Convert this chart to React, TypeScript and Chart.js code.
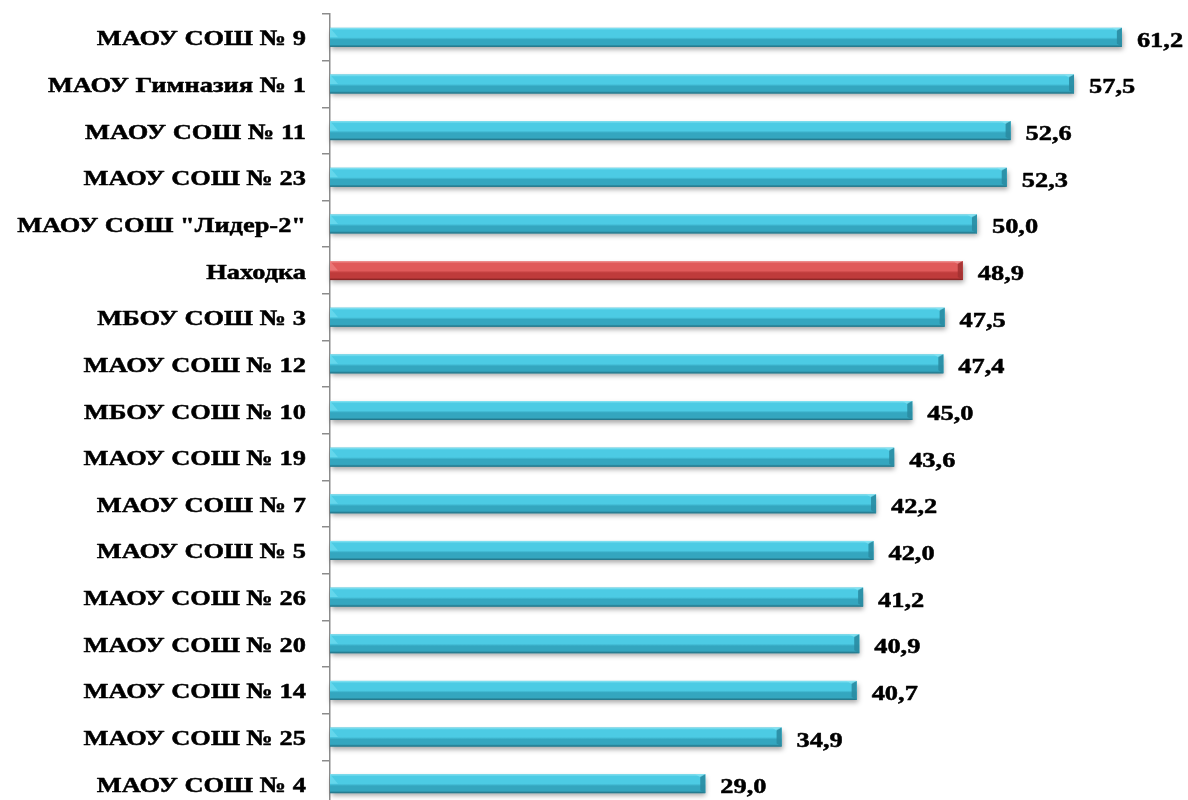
import React, { useEffect, useRef } from "react";
import { Chart, registerables } from "chart.js";

Chart.register(...registerables);

const categories = [
  "МАОУ СОШ № 9",
  "МАОУ Гимназия № 1",
  "МАОУ СОШ № 11",
  "МАОУ СОШ № 23",
  'МАОУ СОШ "Лидер-2"',
  "Находка",
  "МБОУ СОШ № 3",
  "МАОУ СОШ № 12",
  "МБОУ СОШ № 10",
  "МАОУ СОШ № 19",
  "МАОУ СОШ № 7",
  "МАОУ СОШ № 5",
  "МАОУ СОШ № 26",
  "МАОУ СОШ № 20",
  "МАОУ СОШ № 14",
  "МАОУ СОШ № 25",
  "МАОУ СОШ № 4",
];

const values = [61.2, 57.5, 52.6, 52.3, 50.0, 48.9, 47.5, 47.4, 45.0, 43.6, 42.2, 42.0, 41.2, 40.9, 40.7, 34.9, 29.0];

const highlight = "Находка";

const FONT = 'bold 22px "Liberation Serif", "Times New Roman", serif';
const STRETCH = 1.2;

const blueTheme = {
  top: "#8be6f5",
  upper: "#4ccbe4",
  lower: "#34a6bf",
  bottom: "#1f6a7c",
  right: "#2a8ca2",
  left: "#6fdcef",
};
const redTheme = {
  top: "#f29a9a",
  upper: "#e05a5a",
  lower: "#bf3b3b",
  bottom: "#7c1f1f",
  right: "#a33232",
  left: "#ee8080",
};

function stretchedText(ctx: any, text: string, x: number, y: number, align: "left" | "right") {
  ctx.save();
  ctx.translate(x, y);
  ctx.scale(STRETCH, 1);
  ctx.font = FONT;
  ctx.fillStyle = "#000";
  ctx.strokeStyle = "#000";
  ctx.lineWidth = 0.5;
  ctx.lineJoin = "round";
  ctx.textAlign = align;
  ctx.textBaseline = "alphabetic";
  ctx.fillText(text, 0, 0);
  ctx.strokeText(text, 0, 0);
  ctx.restore();
}

const cylinderBars = {
  id: "cylinderBars",
  afterDatasetsDraw(chart: any) {
    const ctx = chart.ctx;
    const meta = chart.getDatasetMeta(0);
    const axisX = chart.chartArea.left;
    meta.data.forEach((el: any, i: number) => {
      const p = el.getProps(["x", "y", "base", "height"], true);
      const left = Math.min(p.x, p.base);
      const right = Math.max(p.x, p.base);
      const h = p.height;
      const top = p.y - h / 2;
      const bot = p.y + h / 2;
      const th = chart.data.labels[i] === highlight ? redTheme : blueTheme;
      const bev = 5;

      ctx.save();
      ctx.shadowColor = "rgba(0,0,0,0.35)";
      ctx.shadowBlur = 5;
      ctx.shadowOffsetY = 3;
      ctx.shadowOffsetX = 1;
      ctx.fillStyle = th.lower;
      ctx.fillRect(left, top, right - left, h);
      ctx.restore();

      ctx.save();
      const g = ctx.createLinearGradient(0, top, 0, bot);
      g.addColorStop(0, th.top);
      g.addColorStop(0.12, th.upper);
      g.addColorStop(0.5, th.upper);
      g.addColorStop(0.62, th.lower);
      g.addColorStop(0.88, th.lower);
      g.addColorStop(1, th.bottom);
      ctx.fillStyle = g;
      ctx.fillRect(left, top, right - left, h);

      ctx.fillStyle = th.left;
      ctx.globalAlpha = 0.7;
      ctx.beginPath();
      ctx.moveTo(left, top);
      ctx.lineTo(left + bev * 1.6, top + h * 0.5);
      ctx.lineTo(left, top + h * 0.5);
      ctx.closePath();
      ctx.fill();

      ctx.globalAlpha = 0.9;
      ctx.fillStyle = th.right;
      ctx.beginPath();
      ctx.moveTo(right - bev, top + 2);
      ctx.lineTo(right, top);
      ctx.lineTo(right, bot);
      ctx.lineTo(right - bev, bot - 3);
      ctx.closePath();
      ctx.fill();
      ctx.globalAlpha = 0.6;
      ctx.fillStyle = th.top;
      ctx.beginPath();
      ctx.moveTo(right - bev * 2, top);
      ctx.lineTo(right, top);
      ctx.lineTo(right - bev, top + 3);
      ctx.closePath();
      ctx.fill();
      ctx.restore();

      const v = chart.data.datasets[0].data[i] as number;
      stretchedText(ctx, v.toFixed(1).replace(".", ","), right + 15, p.y + 9.5, "left");
      stretchedText(ctx, String(chart.data.labels[i]), axisX - 24, p.y + 8, "right");
    });
  },
};

export default function App() {
  const ref = useRef<HTMLCanvasElement>(null);
  useEffect(() => {
    if (!ref.current) return;
    const chart = new Chart(ref.current, {
      type: "bar",
      data: {
        labels: categories,
        datasets: [
          {
            data: values,
            backgroundColor: "rgba(0,0,0,0)",
            borderWidth: 0,
            barThickness: 19,
          },
        ],
      },
      options: {
        indexAxis: "y",
        animation: false,
        responsive: false,
        maintainAspectRatio: false,
        layout: { padding: { top: 14, right: 4, bottom: 0, left: 0 } },
        plugins: {
          legend: { display: false },
          tooltip: { enabled: false },
        },
        scales: {
          x: {
            display: false,
            min: 0,
            max: 66,
            grid: { display: false },
          },
          y: {
            afterFit: (scale: any) => {
              scale.width = 330;
              scale.paddingTop = 0;
              scale.paddingBottom = 0;
            },
            border: { display: true, color: "#8c8c8c", width: 1.5 },
            grid: {
              display: true,
              drawOnChartArea: false,
              drawTicks: true,
              tickLength: 8,
              offset: true,
              color: "#8c8c8c",
              lineWidth: 1.5,
            },
            ticks: {
              color: "rgba(0,0,0,0)",
              padding: 16,
              font: { family: '"Liberation Serif", "Times New Roman", serif', size: 20, weight: "bold" },
            },
          },
        },
      },
      plugins: [cylinderBars],
    } as any);
    return () => chart.destroy();
  }, []);
  return (
    <div style={{ position: "absolute", left: 0, top: 0, width: 1188, height: 807 }}>
      <canvas ref={ref} width={1188} height={807} style={{ display: "block" }} />
    </div>
  );
}
